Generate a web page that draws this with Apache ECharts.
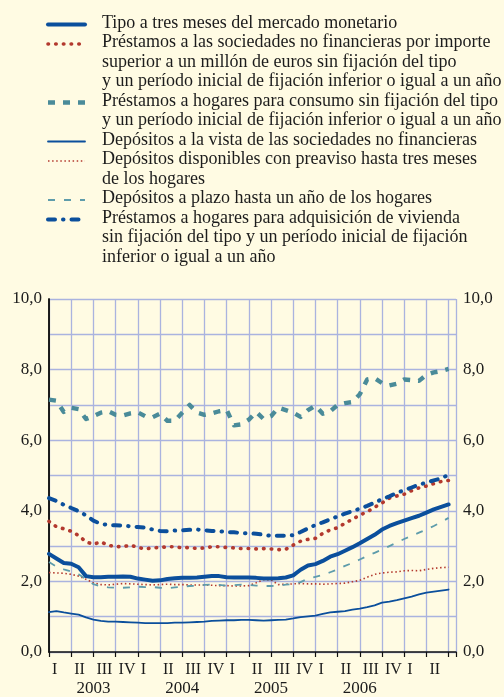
<!DOCTYPE html>
<html lang="es">
<head>
<meta charset="UTF-8">
<title>Tipos de interés</title>
<script src="https://cdn.jsdelivr.net/npm/echarts@6/dist/echarts.min.js"></script>
<style>
  html, body { margin: 0; padding: 0; background: #fffbe3; }
  #chart { width: 504px; height: 697px; }
</style>
</head>
<body>
<div id="chart"></div>
<script>
// monthly, Jan 2003 .. Jul 2007 (index 0 = Jan 2003)
var mercadoMonetario = [2.78, 2.65, 2.52, 2.50, 2.40, 2.15, 2.12, 2.12, 2.13, 2.13, 2.14, 2.13,
  2.08, 2.05, 2.02, 2.03, 2.07, 2.09, 2.10, 2.10, 2.11, 2.13, 2.15, 2.15,
  2.12, 2.11, 2.11, 2.11, 2.10, 2.08, 2.08, 2.09, 2.11, 2.17, 2.33, 2.45,
  2.49, 2.58, 2.70, 2.77, 2.87, 2.97, 3.08, 3.20, 3.32, 3.47, 3.57, 3.65,
  3.72, 3.79, 3.86, 3.95, 4.04, 4.11, 4.18];
var prestamosSociedades = [3.70, 3.55, 3.49, 3.42, 3.30, 3.12, 3.05, 3.12, 3.02, 2.99, 2.98, 3.03,
  2.96, 2.92, 2.95, 2.96, 2.98, 2.98, 2.95, 2.96, 2.93, 2.95, 2.98, 2.98,
  2.96, 2.95, 2.93, 2.93, 2.92, 2.93, 2.92, 2.90, 2.91, 3.03, 3.14, 3.19,
  3.22, 3.36, 3.46, 3.52, 3.65, 3.76, 3.88, 3.97, 4.10, 4.22, 4.36, 4.42,
  4.47, 4.57, 4.65, 4.70, 4.77, 4.83, 4.86];
var prestamosConsumo = [7.15, 7.12, 6.80, 6.92, 6.88, 6.60, 6.68, 6.78, 6.82, 6.72, 6.70, 6.76,
  6.79, 6.68, 6.65, 6.75, 6.55, 6.55, 6.78, 7.00, 6.78, 6.72, 6.76, 6.82,
  6.86, 6.42, 6.45, 6.58, 6.80, 6.60, 6.68, 6.92, 6.85, 6.78, 6.66, 6.85,
  6.98, 6.75, 6.82, 7.00, 7.05, 7.08, 7.30, 7.72, 7.76, 7.62, 7.55, 7.60,
  7.72, 7.70, 7.68, 7.85, 7.92, 7.96, 8.02];
var depositosVista = [1.13, 1.16, 1.12, 1.09, 1.06, 0.98, 0.92, 0.88, 0.86, 0.86, 0.85, 0.84,
  0.83, 0.82, 0.82, 0.82, 0.82, 0.83, 0.83, 0.84, 0.85, 0.86, 0.88, 0.89,
  0.90, 0.90, 0.91, 0.91, 0.90, 0.89, 0.90, 0.91, 0.92, 0.95, 0.99, 1.01,
  1.03, 1.08, 1.12, 1.14, 1.16, 1.20, 1.23, 1.27, 1.32, 1.40, 1.43, 1.47,
  1.52, 1.57, 1.63, 1.68, 1.71, 1.74, 1.77];
var depositosPreaviso = [2.25, 2.24, 2.23, 2.20, 2.15, 2.06, 1.96, 1.91, 1.90, 1.92, 1.94, 1.93,
  1.92, 1.91, 1.90, 1.91, 1.92, 1.91, 1.91, 1.90, 1.90, 1.90, 1.89, 1.88,
  1.88, 1.87, 1.87, 1.88, 1.96, 2.05, 2.04, 1.91, 1.92, 1.93, 1.94, 1.93,
  1.93, 1.92, 1.93, 1.94, 1.95, 1.99, 2.03, 2.12, 2.20, 2.24, 2.26, 2.27,
  2.30, 2.31, 2.30, 2.34, 2.37, 2.39, 2.40];
var depositosPlazo = [2.55, 2.42, 2.34, 2.28, 2.20, 2.07, 1.92, 1.86, 1.83, 1.82, 1.82, 1.83,
  1.85, 1.84, 1.84, 1.82, 1.81, 1.83, 1.85, 1.87, 1.88, 1.90, 1.91, 1.90,
  1.88, 1.89, 1.91, 1.90, 1.88, 1.87, 1.87, 1.88, 1.91, 1.92, 1.98, 2.08,
  2.13, 2.18, 2.26, 2.34, 2.44, 2.52, 2.62, 2.72, 2.81, 2.90, 3.00, 3.10,
  3.20, 3.29, 3.38, 3.47, 3.57, 3.68, 3.80];
var prestamosVivienda = [4.36, 4.28, 4.17, 4.08, 3.99, 3.87, 3.72, 3.63, 3.60, 3.59, 3.58, 3.56,
  3.54, 3.52, 3.47, 3.43, 3.42, 3.44, 3.45, 3.46, 3.47, 3.45, 3.43, 3.42,
  3.40, 3.39, 3.37, 3.36, 3.35, 3.32, 3.29, 3.29, 3.29, 3.31, 3.40, 3.50,
  3.60, 3.67, 3.76, 3.84, 3.92, 3.99, 4.06, 4.14, 4.23, 4.33, 4.41, 4.51,
  4.58, 4.66, 4.74, 4.80, 4.86, 4.92, 5.02];

var quarterLabels = ['I', 'II', 'III', 'IV'];
var firstYear = 2003;
var lastYearLabelled = 2006;

var names = [
  'Tipo a tres meses del mercado monetario',
  'Préstamos a las sociedades no financieras por importe\nsuperior a un millón de euros sin fijación del tipo\ny un período inicial de fijación inferior o igual a un año',
  'Préstamos a hogares para consumo sin fijación del tipo\ny un período inicial de fijación inferior o igual a un año',
  'Depósitos a la vista de las sociedades no financieras',
  'Depósitos disponibles con preaviso hasta tres meses\nde los hogares',
  'Depósitos a plazo hasta un año de los hogares',
  'Préstamos a hogares para adquisición de vivienda\nsin fijación del tipo y un período inicial de fijación\ninferior o igual a un año'
];

var BLUE = '#0b4f9c', RED = '#b3392e', TEAL = '#4a8b99', TEAL2 = '#5e9cab';
var styles = [
  { color: BLUE, width: 4, type: 'solid', cap: 'round' },
  { color: RED, width: 3.6, type: [0.5, 7.2], cap: 'round' },
  { color: TEAL, width: 4.4, type: [7, 8], cap: 'butt' },
  { color: BLUE, width: 1.8, type: 'solid', cap: 'round' },
  { color: RED, width: 1.6, type: [1.5, 2.6], cap: 'butt' },
  { color: TEAL2, width: 1.8, type: [7, 9], cap: 'butt' },
  { color: BLUE, width: 4, type: [7, 8, 0.5, 8], cap: 'round' }
];
var allData = [mercadoMonetario, prestamosSociedades, prestamosConsumo, depositosVista,
  depositosPreaviso, depositosPlazo, prestamosVivienda];

// z order: thick blue on top
var zOrder = [7, 4, 3, 5, 2, 2, 6];

var FONT = '"Liberation Serif", "DejaVu Serif", serif';
var series = allData.map(function (arr, k) {
  return {
    name: names[k],
    type: 'line',
    showSymbol: false,
    z: zOrder[k],
    data: arr.map(function (v, i) { return [i, v]; }),
    lineStyle: { color: styles[k].color, width: styles[k].width, type: styles[k].type, cap: styles[k].cap, join: 'round' }
  };
});

// legend drawn by hand (multi-line entries)
var legendStart = [0, 1, 4, 6, 7, 9, 10];
var rowH = 19.5, row0 = 23;
var graphics = [];
names.forEach(function (n, k) {
  var cy = row0 + legendStart[k] * rowH;
  var s = styles[k];
  graphics.push({
    type: 'line',
    shape: { x1: 48, y1: cy + 1.5, x2: 85, y2: cy + 1.5 },
    style: { stroke: s.color, lineWidth: s.width, lineDash: s.type === 'solid' ? null : s.type, lineCap: s.cap }
  });
  graphics.push({
    type: 'text',
    x: 102, y: cy - rowH / 2,
    style: { text: n, font: '18px ' + FONT, fill: '#1c1c1c', lineHeight: rowH, verticalAlign: 'top' }
  });
});

function yLabel(v) { return v % 2 === 0 ? v.toFixed(1).replace('.', ',') : ''; }

var chart = echarts.init(document.getElementById('chart'), null, { renderer: 'canvas' });
chart.setOption({
  backgroundColor: '#fffbe3',
  animation: false,
  textStyle: { fontFamily: FONT },
  grid: { left: 49, right: 48, top: 299, bottom: 43 },
  xAxis: [{
    type: 'value', min: 0, max: 55, interval: 3, offset: 5,
    axisLine: { show: true, lineStyle: { color: '#111', width: 1.5 } },
    axisTick: { show: true, length: 5, lineStyle: { color: '#111', width: 1.2 } },
    splitLine: { show: true, lineStyle: { color: '#aab3df', width: 1.3 } },
    axisLabel: {
      fontFamily: FONT, fontSize: 16, color: '#1c1c1c', align: 'left', margin: 5, padding: [0, 0, 0, 3],
      showMaxLabel: true, showMinLabel: true,
      formatter: function (v) { return (v % 3 === 0 && v <= 51) ? quarterLabels[(v / 3) % 4] : ''; }
    }
  }, {
    type: 'value', min: 0, max: 55, interval: 6, offset: 22, position: 'bottom',
    axisLine: { show: false }, axisTick: { show: false }, splitLine: { show: false },
    axisLabel: {
      fontFamily: FONT, fontSize: 17, color: '#1c1c1c', margin: 6,
      formatter: function (v) {
        var y = firstYear + (v - 6) / 12;
        return (v % 12 === 6 && y <= lastYearLabelled) ? String(y) : '';
      }
    }
  }],
  yAxis: [{
    type: 'value', min: 0, max: 10, interval: 1, position: 'left',
    axisLine: { show: true, lineStyle: { color: '#111', width: 1.5 } },
    axisTick: { show: false },
    splitLine: { show: true, lineStyle: { color: '#aab3df', width: 1.3 } },
    axisLabel: { fontFamily: FONT, fontSize: 17, color: '#1c1c1c', margin: 7, formatter: yLabel }
  }, {
    type: 'value', min: 0, max: 10, interval: 1, position: 'right',
    axisLine: { show: true, lineStyle: { color: '#111', width: 1.5 } },
    axisTick: { show: false },
    splitLine: { show: false },
    axisLabel: { fontFamily: FONT, fontSize: 17, color: '#1c1c1c', margin: 7, formatter: yLabel }
  }],
  graphic: graphics,
  series: series
});
</script>
</body>
</html>
